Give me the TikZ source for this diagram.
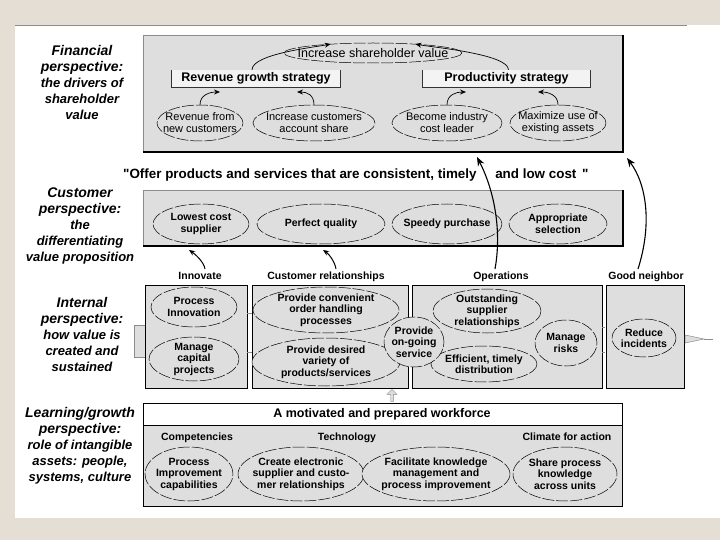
\documentclass[tikz,border=0pt]{standalone}
\usepackage{fontspec}
\setmainfont{Liberation Sans}
\newfontfamily\qfont{Liberation Sans}
\usetikzlibrary{arrows.meta,shapes.geometric,shapes.arrows}
\definecolor{beige}{RGB}{228,222,213}
\definecolor{stip}{RGB}{222,222,222}
\definecolor{paleband}{RGB}{243,243,243}
\definecolor{edgegray}{RGB}{140,140,140}
\newcommand\myfs[2]{\fontsize{#1}{#2}\selectfont}
\newcommand\hd{\myfs{14}{17.5}}
\newcommand\ellip[7]{%
  \node[ellshape, minimum width=#4, minimum height=#5] (#1) at (#2,#3) {};
  \node[etext, font=#6] (#1t) at (#1.center) {#7};}
\begin{document}
\begin{tikzpicture}[x=1pt,y=-1pt,
  ellshape/.style={ellipse, draw=black, line width=0.5pt, dash pattern=on 12pt off 2pt, fill=stip, inner sep=0pt},
  etext/.style={inner sep=0pt, align=center},
  panel/.style={fill=stip, draw=edgegray, line width=0.5pt},
  ibox/.style={fill=stip, draw=black, line width=0.7pt},
  persp/.style={inner sep=0pt, align=center, anchor=north, font=\bfseries\itshape\myfs{13}{16}},
  lbl/.style={inner sep=0pt, anchor=base, font=\bfseries\myfs{10.5}{12}},
  sbox/.style={fill=paleband, inner sep=0pt, font=\bfseries\myfs{12.5}{14}},
  arr/.style={-{Stealth[length=6pt,width=5pt]}, line width=0.7pt},
  bigarr/.style={-{Stealth[length=9pt,width=7pt]}, line width=1.1pt},
]
\useasboundingbox (0,0) rectangle (720,540);
\fill[beige] (0,0) rectangle (720,540);
\fill[white] (15,25) rectangle (720,518);
\draw[edgegray, line width=0.8pt] (15,25) -- (687,25);

% ---------- Financial ----------
\draw[panel] (143,35) rectangle (623,152);
\draw[line width=1.2pt] (143,152) -- (623,152) -- (623,35);
\node[persp] (pfin) at (82,45) {\hd Financial\\\hd perspective:\\the drivers of\\shareholder\\value};

\node[sbox, minimum width=168, minimum height=17] (rgs) at (256,78.5) {Revenue growth strategy};
\draw[line width=1pt, black!80] (rgs.north west) -- (rgs.south west) -- (rgs.south east) -- (rgs.north east);
\node[sbox, minimum width=167, minimum height=17] (ps) at (506.5,78.5) {Productivity strategy};
\draw[line width=1pt, black!80] (ps.north west) -- (ps.south west) -- (ps.south east) -- (ps.north east);

\ellip{isv}{373}{53}{178}{20}{\myfs{12.5}{14}}{Increase shareholder value}
\ellip{rnc}{200}{123}{86}{36}{\myfs{11}{12}}{Revenue from\\new customers}
\ellip{ica}{314}{123}{122}{36}{\myfs{11}{12}}{Increase customers\\account share}
\ellip{bic}{447}{123}{110}{36}{\myfs{11}{12}}{Become industry\\cost leader}
\ellip{mua}{558}{123}{96}{36}{\myfs{11}{12}}{Maximize use of\\existing assets}

\coordinate (t1) at (220,92);
\coordinate (t2) at (297,92);
\coordinate (t3) at (466,92);
\coordinate (t4) at (538,92);
\draw[arr] (rnc.north) .. controls +(0,-10) and +(-10,0) .. (t1);
\draw[arr] (ica.north) .. controls +(0,-10) and +(10,0) .. (t2);
\draw[arr] (bic.north) .. controls +(0,-10) and +(-10,0) .. (t3);
\draw[arr] (mua.north) .. controls +(0,-10) and +(10,0) .. (t4);
\draw[arr] ([xshift=-4pt]rgs.north) .. controls +(0,-16) and +(-14,3) .. (isv.168);
\draw[arr] ([xshift=2pt]ps.north) .. controls +(0,-16) and +(14,3) .. (isv.12);

% ---------- Customer ----------
\node[font=\bfseries\myfs{13.4}{16}, inner sep=0pt, anchor=west] (quote) at (123,175) {{\qfont\bfseries "}Offer products and services that are consistent, timely\hspace{15pt} and low cost\hspace{2pt} {\qfont\bfseries "}};
\draw[panel] (143,190) rectangle (623,246);
\draw[line width=1.2pt] (143,246) -- (623,246) -- (623,190);
\node[persp] (pcus) at (80,188) {\hd Customer\\\hd perspective:\\the\\differentiating\\value proposition};

\ellip{lcs}{201}{224}{96}{40}{\bfseries\myfs{10.5}{12}}{Lowest cost\\supplier}
\ellip{pq}{321}{224}{128}{40}{\bfseries\myfs{10.5}{12}}{Perfect quality}
\ellip{spu}{447}{224}{110}{40}{\bfseries\myfs{10.5}{12}}{Speedy purchase}
\ellip{aps}{558}{224}{98}{40}{\bfseries\myfs{10.5}{12}}{Appropriate\\selection}

\node[lbl] (linn) at (200,279) {Innovate};
\node[lbl] (lcr) at (326,279) {Customer relationships};
\node[lbl] (lop) at (501,279) {Operations};
\node[lbl] (lgn) at (646,279) {Good neighbor};

\coordinate (k1) at (189,250);
\coordinate (k2) at (323,250);
\coordinate (o1) at (477,157);
\coordinate (g1) at (627,158);
\draw[arr, line width=1pt] ([xshift=5pt,yshift=10pt]linn.base) .. controls +(-1,-7) and +(6,4) .. (k1);
\draw[arr, line width=1pt] ([xshift=10pt,yshift=10pt]lcr.base) .. controls +(-1,-7) and +(6,4) .. (k2);
\draw[bigarr] ([xshift=-6pt,yshift=10pt]lop.base) .. controls (502,230) and (494,190) .. (o1);
\draw[bigarr] ([xshift=-8pt,yshift=10pt]lgn.base) .. controls (652,225) and (647,185) .. (g1);

% ---------- Internal ----------
\node[persp] (pint) at (82,297) {\hd Internal\\\hd perspective:\\how value is\\created and\\sustained};
\fill[stip] (134,325) rectangle (145,357);
\draw[edgegray, line width=0.6pt] (145,325) -- (134,325) -- (134,357) -- (145,357);
\draw[ibox] (145,285) rectangle (247,388);
\draw[ibox] (252,285) rectangle (408,388);
\draw[ibox] (412,285) rectangle (602,388);
\draw[ibox] (606,285) rectangle (684,388);
\draw[edgegray, line width=0.6pt] (247,313) -- (252,313) (247,352) -- (252,352);
\draw[edgegray, line width=0.6pt, dashed] (602,327) -- (606,327) (602,352) -- (606,352);
\fill[stip, draw=edgegray, line width=0.5pt] (685,335) -- (704,339) -- (685,343) -- cycle;
\draw[edgegray, line width=0.6pt] (704,339) -- (713,339);

\ellip{pin}{194}{307}{86}{40}{\bfseries\myfs{10.5}{11.5}}{Process\\Innovation}
\ellip{mcp}{194}{359}{90}{44}{\bfseries\myfs{10.5}{11.5}}{Manage\\capital\\projects}
\ellip{pco}{326}{310}{146}{46}{\bfseries\myfs{10.5}{11.5}}{Provide convenient\\order handling\\processes}
\ellip{pdv}{326}{362}{148}{48}{\bfseries\myfs{10.5}{11.5}}{Provide desired\\variety of\\products/services}
\ellip{osr}{487}{311}{108}{44}{\bfseries\myfs{10.5}{11.5}}{Outstanding\\supplier\\relationships}
\ellip{etd}{484}{364}{106}{36}{\bfseries\myfs{10.5}{11.5}}{Efficient, timely\\distribution}
\ellip{pos}{414}{342}{60}{50}{\bfseries\myfs{10.5}{11.5}}{Provide\\on-going\\service}
\ellip{mri}{566}{343}{62}{46}{\bfseries\myfs{10.5}{11.5}}{Manage\\risks}
\ellip{rin}{644}{338}{64}{38}{\bfseries\myfs{10.5}{11.5}}{Reduce\\incidents}

\node[single arrow, shape border rotate=90, fill=stip, draw=edgegray, line width=0.4pt, minimum width=10pt, minimum height=12pt, single arrow head extend=2pt, inner sep=0.5pt] (uarr) at (392,396) {};

% ---------- Learning ----------
\node[persp] (plg) at (80,407) {\hd Learning/growth\\\hd perspective:\\role of intangible\\assets: people,\\systems, culture};
\fill[stip] (143,425) rectangle (622,506);
\fill[white] (143,403) rectangle (622,425);
\draw[line width=0.8pt] (143,403) rectangle (622,506);
\draw[line width=0.8pt] (143,425) -- (622,425);
\node[font=\bfseries\myfs{12.5}{14}, inner sep=0pt] (mpw) at (382,414) {A motivated and prepared workforce};
\node[lbl] (lcomp) at (197,440) {Competencies};
\node[lbl] (ltech) at (347,440) {Technology};
\node[lbl] (lclim) at (567,440) {Climate for action};

\ellip{pic}{189}{474}{88}{54}{\bfseries\myfs{10.5}{11.5}}{Process\\Improvement\\capabilities}
\ellip{ces}{301}{474}{126}{54}{\bfseries\myfs{10.5}{11.5}}{Create electronic\\supplier and custo-\\mer relationships}
\ellip{fkm}{436}{474}{148}{54}{\bfseries\myfs{10.5}{11.5}}{Facilitate knowledge\\management and\\process improvement}
\ellip{spk}{565}{474}{104}{54}{\bfseries\myfs{10.5}{11.5}}{Share process\\knowledge\\across units}
\end{tikzpicture}
\end{document}
